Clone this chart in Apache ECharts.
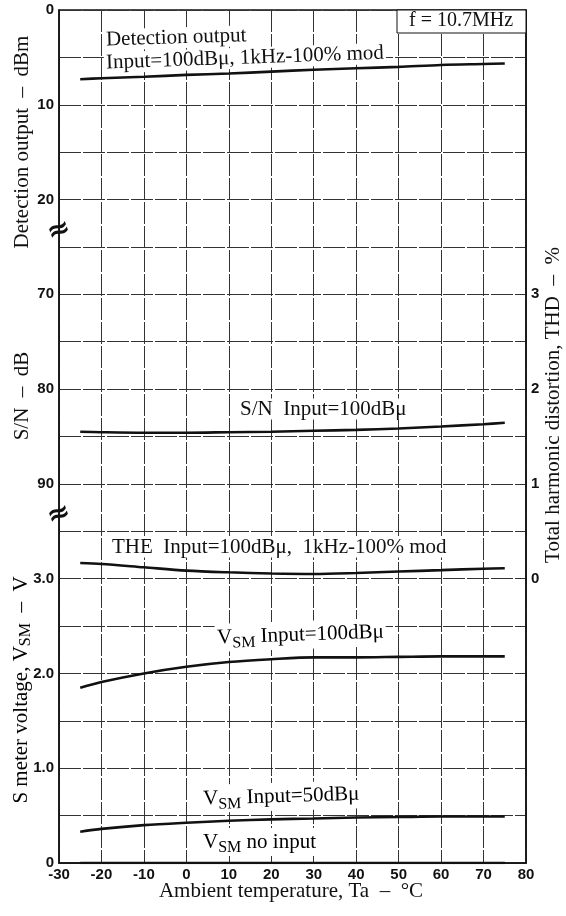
<!DOCTYPE html>
<html><head><meta charset="utf-8">
<script src="https://cdn.jsdelivr.net/npm/echarts@6/dist/echarts.min.js"></script>
<style>html,body{margin:0;padding:0;background:#fff}#c{width:566px;height:916px}</style>
</head><body><div id="c"></div>
<script>
// ---- data ----
const temps   = [-25, -20, -10, 0, 10, 20, 30, 40, 50, 60, 70, 75];
const detOut  = [7.3, 7.2, 7.05, 6.85, 6.7, 6.5, 6.3, 6.15, 6.0, 5.8, 5.7, 5.65];      // dBm (axis downward)
const snRatio = [84.5, 84.55, 84.6, 84.6, 84.55, 84.5, 84.4, 84.3, 84.15, 83.95, 83.7, 83.55]; // dB
const thd     = [0.165, 0.155, 0.12, 0.085, 0.067, 0.055, 0.05, 0.06, 0.075, 0.09, 0.105, 0.11]; // %
const vsm100  = [1.85, 1.91, 2.0, 2.07, 2.12, 2.15, 2.17, 2.17, 2.175, 2.18, 2.18, 2.18]; // V
const vsm50   = [0.33, 0.36, 0.40, 0.425, 0.445, 0.46, 0.47, 0.48, 0.485, 0.49, 0.49, 0.49]; // V
const vsmNone = [0, 0, 0, 0, 0, 0, 0, 0, 0, 0, 0, 0]; // V

const xTicks   = [-30, -20, -10, 0, 10, 20, 30, 40, 50, 60, 70, 80];
const detTicks = [0, 10, 20];
const snTicks  = [70, 80, 90];
const vTicks   = [0, 1, 2, 3];
const thdTicks = [0, 1, 2, 3];

// ---- styling ----
const SERIF = '"Liberation Serif", "DejaVu Serif", serif';
const SANS = '"DejaVu Sans", "Liberation Sans", sans-serif';
const TICKFONT = '"Liberation Sans", Arial, sans-serif';
const tickLabel = { fontFamily: TICKFONT, fontWeight: 'bold', fontSize: 15, color: '#111' };
const gridLine = { show: true, lineStyle: { color: '#333', width: 1, type: [22, 2] } };

const pair = (ys) => temps.map((t, i) => [t, ys[i]]);
const line = (name, ys, yi) => ({
  name, type: 'line', xAxisIndex: 0, yAxisIndex: yi, data: pair(ys),
  smooth: 0.3, showSymbol: false, symbol: 'none',
  lineStyle: { color: '#111', width: 2.6 }, z: 5
});

const chart = echarts.init(document.getElementById('c'), null, { renderer: 'canvas' });

const FS = 21;
const txt = (text, x, y, opt = {}) => Object.assign({
  type: 'text', x, y, z: 20,
  style: Object.assign({
    text, fontFamily: SERIF, fontSize: FS, fill: '#111',
    align: 'left', verticalAlign: 'middle', backgroundColor: '#fff', padding: [0, 2]
  }, opt.style || {})
}, opt.el || {});

const vsmRich = {
  v: { fontFamily: SERIF, fontSize: FS, color: '#111' },
  s: { fontFamily: SERIF, fontSize: 16, color: '#111', padding: [12, 0, 0, 0] },
  t: { fontFamily: SERIF, fontSize: FS, color: '#111' }
};
const titleRich = {
  v: { fontFamily: SERIF, fontSize: FS, color: '#111' },
  s: { fontFamily: SERIF, fontSize: 16, color: '#111', padding: [9, 0, 0, 0] },
  t: { fontFamily: SERIF, fontSize: FS, color: '#111' }
};
const yLine = (show) => ({ show, onZero: false, lineStyle: { color: '#111', width: 1.5 } });

chart.setOption({
  animation: false,
  backgroundColor: '#fff',
  grid: { left: 59, right: 40, top: 10, bottom: 53, show: true, borderColor: '#111', borderWidth: 1.5, backgroundColor: 'transparent' },
  xAxis: {
    type: 'value', min: -30, max: 80, interval: 10,
    axisLine: { show: true, onZero: false, lineStyle: { color: '#111', width: 1.5 } },
    axisTick: { show: false },
    axisLabel: Object.assign({ margin: 4, formatter: (v) => xTicks.includes(v) ? String(v) : '' }, tickLabel),
    splitLine: gridLine
  },
  yAxis: [
    { // detection output, dBm (downward)
      type: 'value', position: 'left', inverse: true, min: 0, max: 90, interval: 5,
      axisLine: yLine(true), axisTick: { show: false }, splitLine: { show: false },
      axisLabel: Object.assign({ margin: 5, formatter: (v) => detTicks.includes(v) ? String(v) : '' }, tickLabel)
    },
    { // S/N, dB (downward)
      type: 'value', position: 'left', inverse: true, min: 40, max: 130, interval: 5,
      axisLine: yLine(false), axisTick: { show: false }, splitLine: { show: false },
      axisLabel: Object.assign({ margin: 5, formatter: (v) => snTicks.includes(v) ? String(v) : '' }, tickLabel)
    },
    { // S meter voltage, V
      type: 'value', position: 'left', min: 0, max: 9, interval: 0.5,
      axisLine: yLine(false), axisTick: { show: false }, splitLine: gridLine,
      axisLabel: Object.assign({ margin: 5, formatter: (v) => vTicks.includes(v) ? (v === 0 ? '0' : v.toFixed(1)) : '' }, tickLabel)
    },
    { // THD, %
      type: 'value', position: 'right', min: -3, max: 6, interval: 0.5,
      axisLine: yLine(true), axisTick: { show: false }, splitLine: { show: false },
      axisLabel: Object.assign({ margin: 5, formatter: (v) => thdTicks.includes(v) ? String(v) : '' }, tickLabel)
    }
  ],
  series: [
    line('Detection output', detOut, 0),
    line('S/N', snRatio, 1),
    line('THD', thd, 3),
    line('VSM 100dBu', vsm100, 2),
    line('VSM 50dBu', vsm50, 2),
    line('VSM no input', vsmNone, 2)
  ],
  graphic: [
    // axis titles
    txt('Detection output  –  dBm', 22, 142, { el: { rotation: Math.PI / 2 }, style: { align: 'center', backgroundColor: null, padding: 0 } }),
    txt('S/N  –  dB', 22, 396, { el: { rotation: Math.PI / 2 }, style: { align: 'center', backgroundColor: null, padding: 0 } }),
    { type: 'text', x: 21, y: 690, rotation: Math.PI / 2, z: 20,
      style: { text: '{t|S meter voltage, }{v|V}{s|SM}{t|  –  V}', rich: titleRich, align: 'center', verticalAlign: 'middle' } },
    txt('Total harmonic distortion, THD  –  %', 553, 405, { el: { rotation: Math.PI / 2 }, style: { align: 'center', backgroundColor: null, padding: 0 } }),
    txt('Ambient temperature, Ta  –  °C', 291, 891, { style: { align: 'center', backgroundColor: null, padding: 0 } }),
    // axis break marks
    txt('≈', 59, 231, { el: { rotation: 0.35 }, style: { align: 'center', fontSize: 28, fontWeight: 'bold', fontFamily: SANS, backgroundColor: null, padding: 0 } }),
    txt('≈', 59, 515, { el: { rotation: 0.35 }, style: { align: 'center', fontSize: 28, fontWeight: 'bold', fontFamily: SANS, backgroundColor: null, padding: 0 } }),
    // frequency box
    { type: 'rect', z: 19, shape: { x: 397, y: 10, width: 129, height: 23 }, style: { fill: '#fff', stroke: '#111', lineWidth: 1 } },
    txt('f = 10.7MHz', 461, 21, { style: { align: 'center', fontSize: 20, backgroundColor: null, padding: 0 } }),
    // curve labels
    txt('Detection output', 104, 40, { el: { rotation: 0.03 } }),
    txt('Input=100dBμ, 1kHz-100% mod', 104, 63, { el: { rotation: 0.035 } }),
    txt('S/N  Input=100dBμ', 238, 409),
    txt('THE  Input=100dBμ,  1kHz-100% mod', 110, 547),
    { type: 'text', x: 215, y: 638, rotation: 0.035, z: 20,
      style: { text: '{v|V}{s|SM}{t| Input=100dBμ}', rich: vsmRich, align: 'left', verticalAlign: 'middle', backgroundColor: '#fff', padding: [0, 2] } },
    { type: 'text', x: 201, y: 799, rotation: 0.03, z: 20,
      style: { text: '{v|V}{s|SM}{t| Input=50dBμ}', rich: vsmRich, align: 'left', verticalAlign: 'middle', backgroundColor: '#fff', padding: [0, 2] } },
    { type: 'text', x: 201, y: 842, z: 20,
      style: { text: '{v|V}{s|SM}{t| no input}', rich: vsmRich, align: 'left', verticalAlign: 'middle', backgroundColor: '#fff', padding: [0, 2] } }
  ]
});
</script>
</body></html>
